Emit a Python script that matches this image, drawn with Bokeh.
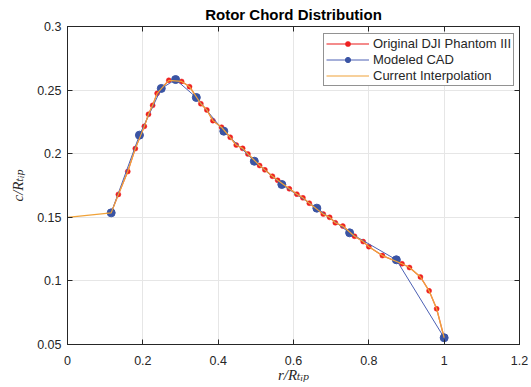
from bokeh.plotting import figure
from bokeh.models import (Range1d, FixedTicker, LinearAxis, Legend, LegendItem)
from bokeh.embed import file_html
from bokeh.resources import INLINE

# ---- data ----
red_r = [0.116, 0.135, 0.160, 0.180, 0.204, 0.215, 0.226, 0.238, 0.269, 0.303, 0.324,
         0.354, 0.370, 0.386, 0.409, 0.432, 0.448, 0.465, 0.479, 0.510, 0.524, 0.544,
         0.558, 0.589, 0.609, 0.625, 0.642, 0.679, 0.696, 0.711, 0.731, 0.762, 0.785,
         0.800, 0.836, 0.888, 0.908, 0.937, 0.960, 0.980, 1.000]
red_c = [0.1535, 0.168, 0.186, 0.204, 0.2215, 0.231, 0.238, 0.2475, 0.2577, 0.2568, 0.2527,
         0.2393, 0.2344, 0.226, 0.2208, 0.2129, 0.2068, 0.2042, 0.1998, 0.1907, 0.1873, 0.1823,
         0.1791, 0.1724, 0.1682, 0.1653, 0.1611, 0.1525, 0.150, 0.1457, 0.1431, 0.1351, 0.1309,
         0.1269, 0.1199, 0.1135, 0.1105, 0.1031, 0.0922, 0.0781, 0.0553]

cad_r = [0.116, 0.191, 0.249, 0.287, 0.342, 0.415, 0.496, 0.569, 0.662, 0.749, 0.873, 1.000]
cad_c = [0.1535, 0.2146, 0.2513, 0.2583, 0.2442, 0.2177, 0.1941, 0.1758, 0.1572, 0.1378, 0.1166, 0.0553]

interp_r = [0.0] + red_r
interp_c = [0.15] + red_c

x_ticks = [0, 0.2, 0.4, 0.6, 0.8, 1.0, 1.2]
x_tick_labels = ["0", "0.2", "0.4", "0.6", "0.8", "1", "1.2"]
y_ticks = [0.05, 0.1, 0.15, 0.2, 0.25, 0.3]
y_tick_labels = ["0.05", "0.1", "0.15", "0.2", "0.25", "0.3"]

title_text = "Rotor Chord Distribution"
x_label = "r/R\u209c\u1d62\u209a"   # r/R_tip
y_label = "c/R\u209c\u1d62\u209a"   # c/R_tip
legend_labels = ["Original DJI Phantom III", "Modeled CAD", "Current Interpolation"]

# ---- style ----
AX = "#262626"
GRID = "#e6e6e6"
FONT = "Liberation Sans"
SERIF = "Liberation Serif, DejaVu Serif, serif"
RED_LINE = "#f06464"
RED_DOT = "#ee2020"
BLUE = "#3a54a4"
BLUE_LINE = "#4c60b4"
ORANGE = "#f0a238"

p = figure(width=531, height=387, output_backend="svg", toolbar_location=None,
           x_range=Range1d(0, 1.2), y_range=Range1d(0.05, 0.3),
           min_border_left=67, min_border_right=12, min_border_top=26, min_border_bottom=43,
           background_fill_color="white", border_fill_color="white")

p.outline_line_color = AX
p.outline_line_width = 1

# title
p.title.text = title_text
p.title.align = "center"
p.title.text_font = FONT
p.title.text_font_size = "15px"
p.title.text_font_style = "bold"
p.title.text_color = "#000000"
p.title.standoff = 7

# axes
for ax, ticks, labels in ((p.xaxis[0], x_ticks, x_tick_labels), (p.yaxis[0], y_ticks, y_tick_labels)):
    ax.ticker = FixedTicker(ticks=ticks)
    ax.major_label_overrides = dict(zip(ticks, labels))
    ax.axis_line_color = AX
    ax.major_tick_line_color = AX
    ax.major_tick_in = 5
    ax.major_tick_out = 0
    ax.minor_tick_line_color = None
    ax.major_label_text_font = FONT
    ax.major_label_text_font_size = "12.5px"
    ax.major_label_text_color = AX
    ax.axis_label_text_font = SERIF
    ax.axis_label_text_font_style = "italic"
    ax.axis_label_text_font_size = "15px"
    ax.axis_label_text_color = AX

p.xaxis[0].major_label_standoff = 11
p.yaxis[0].major_label_standoff = 6
p.xaxis[0].axis_label = x_label
p.xaxis[0].axis_label_standoff = -1
p.yaxis[0].axis_label = y_label
p.yaxis[0].axis_label_standoff = 8

for loc, ticks in (("above", x_ticks), ("right", y_ticks)):
    a = LinearAxis(ticker=FixedTicker(ticks=ticks), axis_line_color=AX,
                   major_tick_line_color=AX, major_tick_in=5, major_tick_out=0,
                   minor_tick_line_color=None, major_label_text_font_size="0px",
                   major_label_text_color=None, major_label_text_alpha=0,
                   major_label_standoff=0)
    p.add_layout(a, loc)

p.xgrid.ticker = FixedTicker(ticks=x_ticks)
p.ygrid.ticker = FixedTicker(ticks=y_ticks)
for g in (p.xgrid[0], p.ygrid[0]):
    g.grid_line_color = GRID
    g.grid_line_width = 1

# data renderers
r_line = p.line(red_r, red_c, line_color=RED_LINE, line_width=1.3)
r_dot = p.scatter(red_r, red_c, size=5, fill_color=RED_DOT, line_color=RED_DOT, line_width=0.5)
b_line = p.line(cad_r, cad_c, line_color=BLUE_LINE, line_width=1)
b_dot = p.scatter(cad_r, cad_c, size=8, fill_color=BLUE, line_color=BLUE)
o_line = p.line(interp_r, interp_c, line_color=ORANGE, line_width=1.2)

legend = Legend(items=[LegendItem(label=legend_labels[0], renderers=[r_line, r_dot]),
                       LegendItem(label=legend_labels[1], renderers=[b_line, b_dot]),
                       LegendItem(label=legend_labels[2], renderers=[o_line])],
                location=(256, 258))
legend.label_text_font = FONT
legend.label_text_font_size = "13px"
legend.label_text_color = AX
legend.glyph_width = 43
legend.glyph_height = 13
legend.label_height = 13
legend.spacing = 1
legend.padding = 2
legend.margin = 0
legend.label_standoff = 4
legend.border_line_color = AX
legend.border_line_width = 1
legend.background_fill_color = "white"
legend.background_fill_alpha = 1
p.add_layout(legend)

open("out.html", "w").write(file_html(p, INLINE))
